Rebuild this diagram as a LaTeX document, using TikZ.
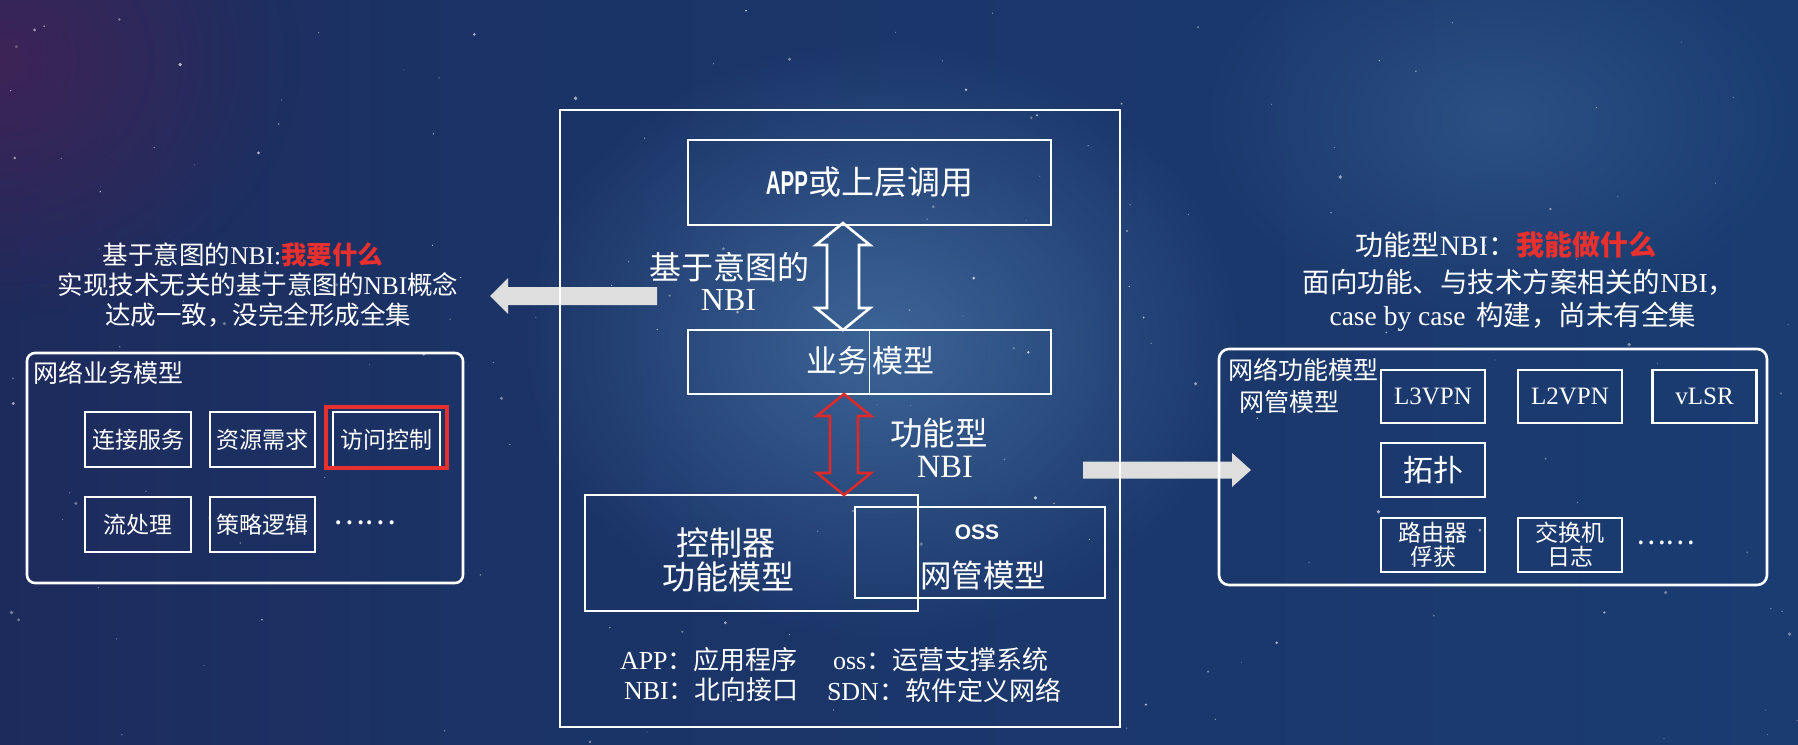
\documentclass[tikz,border=0pt]{standalone}
\usepackage{fontspec}
\usepackage{graphicx}
\setmainfont{Noto Sans CJK SC}
\newfontfamily\latserif{Liberation Serif}
\newfontfamily\latsans{Liberation Sans}
\usetikzlibrary{calc,fadings}

\definecolor{bgA}{HTML}{221B49}
\definecolor{bgB}{HTML}{1B3366}
\definecolor{bgC}{HTML}{1A4279}
\definecolor{glowc}{HTML}{5F93C4}
\definecolor{tintc}{HTML}{5A1E52}
\definecolor{hotred}{HTML}{E8302E}
\definecolor{arrowred}{HTML}{D92B2B}
\definecolor{arrowgray}{HTML}{DEDEDE}
\pgfdeclarehorizontalshading{bgshade}{100bp}{color(0bp)=(bgA); color(38bp)=(bgB); color(100bp)=(bgC)}
\tikzfading[name=softglow, inner color=transparent!0, outer color=transparent!100]

% Latin words set in a serif face inside CJK text
\newcommand{\lat}[1]{{\latserif #1}}
% hollow vertical double arrow between two named points; #2 = half shaft width
\newcommand{\fatdouble}[4]{%
  \draw[#1] let \p1=(#3), \p2=(#4) in
    (\x1,\y1) -- (\x1+27pt,\y1-22pt) -- (\x1+#2,\y1-22pt) -- (\x1+#2,\y2+22pt)
    -- (\x1+27pt,\y2+22pt) -- (\x1,\y2) -- (\x1-27pt,\y2+22pt) -- (\x1-#2,\y2+22pt)
    -- (\x1-#2,\y1-22pt) -- (\x1-27pt,\y1-22pt) -- cycle;}

\begin{document}
\begin{tikzpicture}[x=1pt,y=-1pt,
  every node/.style={text=white, inner sep=0pt, outer sep=0pt},
  fs/.style={font=\fontsize{#1}{#1}\selectfont},
  box/.style={draw=white, line width=2.6pt},
  sbox/.style={box, line width=2.4pt, minimum width=105pt, minimum height=55pt, fs=23},
  fbox/.style={box, line width=2.4pt, minimum width=104pt, minimum height=53pt},
  flat/.style={fill=arrowgray}]

% ---- starry background ----
\useasboundingbox (0,0) rectangle (1798,744);
\shade[shading=bgshade] (0,0) rectangle (1798,744);
\fill[tintc, path fading=softglow, opacity=0.55] (0,60) ellipse (300 and 260);
\fill[glowc, path fading=softglow, opacity=0.5] (880,340) ellipse (360 and 300);
\fill[glowc, path fading=softglow, opacity=0.25] (1500,120) ellipse (300 and 200);
\pgfmathsetseed{42}
\foreach \k in {1,...,170}{
  \pgfmathsetmacro{\sx}{rnd*1798}
  \pgfmathsetmacro{\sy}{rnd*744}
  \pgfmathsetmacro{\sr}{0.6+1.4*rnd^3}
  \pgfmathsetmacro{\so}{0.25+0.5*rnd}
  \fill[white, opacity=\so] (\sx,\sy) circle[radius=\sr pt];
}

% ---- flat arrows towards the side panels ----
\coordinate (la tail) at (657,296);
\coordinate (la tip) at (490,296);
\fill[flat] let \p1=(la tail), \p2=(la tip) in
  (\x1,\y1+9pt) -- (\x2+18pt,\y1+9pt) -- (\x2+18pt,\y1+18pt) -- (\x2,\y2)
  -- (\x2+18pt,\y1-18pt) -- (\x2+18pt,\y1-9pt) -- (\x1,\y1-9pt) -- cycle;
\coordinate (ra tail) at (1083,470);
\coordinate (ra tip) at (1251,470);
\fill[flat] let \p1=(ra tail), \p2=(ra tip) in
  (\x1,\y1+8.5pt) -- (\x2-19pt,\y1+8.5pt) -- (\x2-19pt,\y1+17pt) -- (\x2,\y2)
  -- (\x2-19pt,\y1-17pt) -- (\x2-19pt,\y1-8.5pt) -- (\x1,\y1-8.5pt) -- cycle;

% ---- central stack ----
\node[box, minimum width=560pt, minimum height=617pt] (frame) at (840,418.5) {};
\node[box, minimum width=363pt, minimum height=85pt, fs=33] (app) at (869.5,182.5)
  {{\latsans\bfseries\scalebox{0.62}[1]{APP}}或上层调用};
\node[box, minimum width=363pt, minimum height=64pt] (biz) at (869.5,362) {};
\draw[white, line width=1.2pt] (biz.north) -- (biz.south);
\node[fs=31, anchor=east] (biz-a) at (868,361) {业务};
\node[fs=31, anchor=west] (biz-b) at (872,361) {模型};

\coordinate (wa top) at ([xshift=-26.5pt,yshift=2pt]app.south);
\coordinate (wa bot) at ([xshift=-26.5pt]biz.north);
\fatdouble{white, line width=2.6pt, line join=miter}{16pt}{wa top}{wa bot}
\node[fs=32] (intent-a) at (729.5,267) {基于意图的};
\node[fs=32] (intent-b) at (728.5,300) {\lat{NBI}};

\node[box, minimum width=333pt, minimum height=116pt] (ctrl) at (751.5,553) {};
\node[box, minimum width=250pt, minimum height=91pt] (oss) at (980,552.5) {};
\node[fs=33] (ctrl-a) at (726,543) {控制器};
\node[fs=33] (ctrl-b) at (728,577) {功能模型};
\node[font=\latsans\bfseries\fontsize{21}{21}\selectfont] (oss-a) at (977,532) {OSS};
\node[fs=31.5] (oss-b) at (983,575) {网管模型};

\coordinate (rd top) at ([xshift=-25.5pt]biz.south);
\coordinate (rd bot) at ([xshift=92.5pt]ctrl.north);
\fatdouble{arrowred, line width=2.6pt, line join=miter}{14pt}{rd top}{rd bot}
\node[fs=32.5] (func-a) at (939,433) {功能型};
\node[fs=32.5] (func-b) at (945,467) {\lat{NBI}};

\node[fs=26, anchor=west] (leg-a) at (620,660) {\lat{APP}：应用程序};
\node[fs=26, anchor=west] (leg-b) at (833,660) {\lat{oss}：运营支撑系统};
\node[fs=26, anchor=west] (leg-c) at (624,690) {\lat{NBI}：北向接口};
\node[fs=26, anchor=west] (leg-d) at (827,690) {\lat{SDN}：软件定义网络};

% ---- left panel: intent based NBI ----
\node[fs=25.5] (lt-a) at (243,255) {基于意图的\lat{NBI:}\textcolor{hotred}{\bfseries 我要什么}};
\node[fs=25.5] (lt-b) at (258,285) {实现技术无关的基于意图的\lat{NBI}概念};
\node[fs=25.5] (lt-c) at (258,315) {达成一致，没完全形成全集};
\node[box, rounded corners=8pt, minimum width=436pt, minimum height=230pt] (lbox) at (245,468) {};
\node[fs=25, anchor=west] (lbox-t) at (33,373) {网络业务模型};
\node[sbox, minimum width=106pt] (l1) at (138,439.5) {连接服务};
\node[sbox] (l2) at (262.5,439.5) {资源需求};
\node[sbox, minimum width=107pt] (l3) at (386.5,439.5) {访问控制};
\node[draw=hotred, line width=4pt, minimum width=121pt, minimum height=61pt] (l3-mark) at (386.5,437.5) {};
\node[sbox, minimum width=106pt] (l4) at (138,524.5) {流处理};
\node[sbox] (l5) at (262.5,524.5) {策略逻辑};
\node[fs=30, anchor=west] (l6) at (333,523) {……};

% ---- right panel: functional NBI ----
\node[fs=28] (rt-a) at (1506,245) {功能型\lat{NBI}：\textcolor{hotred}{\bfseries 我能做什么}};
\node[fs=27.5] (rt-b) at (1519,282) {面向功能、与技术方案相关的\lat{NBI}，};
\node[fs=27.5] (rt-c) at (1513,317) {\lat{case by case}\hspace{0.4em}构建，尚未有全集};
\node[box, rounded corners=10pt, minimum width=548pt, minimum height=236pt] (rbox) at (1493,467) {};
\node[fs=25, anchor=west] (rbox-t) at (1228,370) {网络功能模型};
\node[fs=25, anchor=west] (rbox-u) at (1239,402) {网管模型};
\node[fbox, font=\latserif\fontsize{25}{25}\selectfont] (r1) at (1433,396.5) {L3VPN};
\node[fbox, font=\latserif\fontsize{25}{25}\selectfont] (r2) at (1570,396.5) {L2VPN};
\node[fbox, font=\latserif\fontsize{25}{25}\selectfont] (r3) at (1704.5,396.5) {vLSR};
\node[fbox, minimum height=54pt, fs=30] (r4) at (1433,470) {拓扑};
\node[fbox, minimum height=54pt, align=center, font=\fontsize{23}{24}\selectfont] (r5) at (1433,545) {路由器\\俘获};
\node[fbox, minimum height=54pt, align=center, font=\fontsize{23}{24}\selectfont] (r6) at (1570,545) {交换机\\日志};
\node[fs=28, anchor=west] (r7) at (1636,543) {……};
\end{tikzpicture}
\end{document}
